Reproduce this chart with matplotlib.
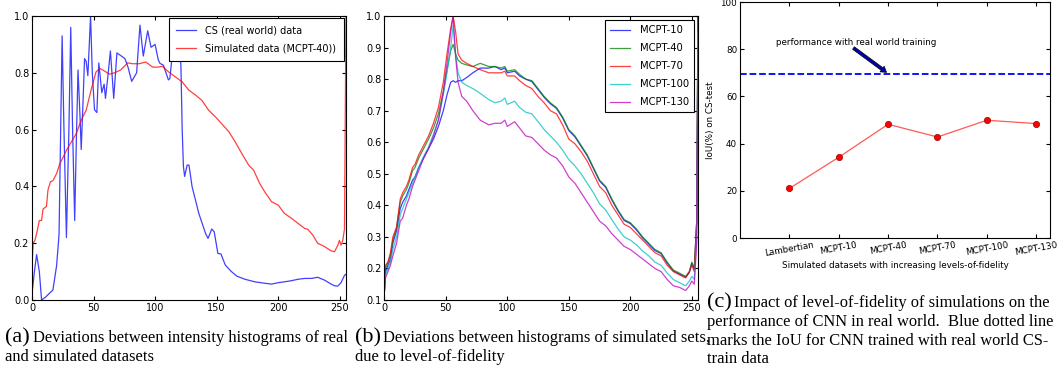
import matplotlib
matplotlib.use('Agg')
import matplotlib.pyplot as plt

# (a) real world vs simulated histogram
cs_x = [0, 2, 3.8, 6, 7.8, 11, 14.5, 17, 20, 22, 24.5, 26, 28, 30, 31.5, 33,
        34.7, 36, 37.4, 39, 40, 41.5, 42.7, 44, 45.4, 47.6, 49, 50.8, 52.7,
        54.3, 56.7, 58.6, 59.7, 61.6, 63.7, 66.4, 69, 72.3, 75.5, 78, 81, 85,
        87.7, 90.4, 94, 96.7, 100, 102.6, 104, 106.7, 110.8, 112, 113.5, 117,
        120, 121, 122, 123, 124, 126, 127.5, 130, 135.5, 141, 143, 146, 148,
        151, 153.5, 157, 162, 166.4, 173, 181, 189, 194.6, 200, 205, 210.8,
        216, 221.5, 227, 232, 237.6, 243, 245.7, 248.4, 251, 253.8, 255]
cs_y = [0.02, 0.1, 0.16, 0.1, 0.0, 0.01, 0.025, 0.035, 0.12, 0.23, 0.93, 0.6,
        0.22, 0.6, 0.96, 0.6, 0.28, 0.55, 0.81, 0.65, 0.53, 0.7, 0.85, 0.84,
        0.79, 1.0, 0.8, 0.67, 0.66, 0.835, 0.73, 0.76, 0.71, 0.785, 0.877,
        0.71, 0.87, 0.86, 0.85, 0.82, 0.77, 0.80, 0.968, 0.859, 0.948, 0.89,
        0.90, 0.845, 0.833, 0.827, 0.775, 0.78, 0.845, 0.92, 0.90, 0.82, 0.6,
        0.47, 0.435, 0.475, 0.475, 0.40, 0.305, 0.234, 0.217, 0.25, 0.24,
        0.164, 0.162, 0.123, 0.10, 0.084, 0.073, 0.064, 0.059, 0.056, 0.061,
        0.064, 0.068, 0.073, 0.076, 0.076, 0.08, 0.07, 0.056, 0.05, 0.049,
        0.061, 0.087, 0.09]

sim_x = [0, 1, 2.4, 3.8, 6, 7.8, 9, 11.8, 13, 15, 17, 20, 22.6, 25, 28, 32,
         36, 40, 44, 48, 52, 55, 57.5, 63, 67, 72, 77.7, 81.7, 87, 92.5, 98,
         102, 106, 111, 116.7, 122, 127.4, 133, 138, 143.5, 149, 154, 160,
         165, 170.4, 176, 180, 185, 189, 194.6, 200, 205, 211, 216, 221.5,
         224, 228, 232, 237.6, 243, 245.7, 248.4, 249.7, 251, 252.4, 253.8, 255]
sim_y = [0.117, 0.2, 0.21, 0.234, 0.28, 0.28, 0.32, 0.33, 0.387, 0.416, 0.42,
         0.445, 0.48, 0.50, 0.527, 0.557, 0.586, 0.633, 0.668, 0.739, 0.803,
         0.815, 0.81, 0.795, 0.80, 0.81, 0.835, 0.832, 0.832, 0.838, 0.82,
         0.82, 0.823, 0.803, 0.785, 0.768, 0.739, 0.721, 0.703, 0.668, 0.645,
         0.621, 0.592, 0.557, 0.516, 0.475, 0.457, 0.41, 0.381, 0.346, 0.334,
         0.305, 0.287, 0.27, 0.252, 0.249, 0.229, 0.2, 0.188, 0.173, 0.17,
         0.193, 0.21, 0.193, 0.21, 0.25, 1.0]

# (b) simulated sets by level-of-fidelity
b_x = [0, 1, 3, 5, 7, 10, 13, 15, 18, 20, 23, 25, 28, 32, 36, 40, 44, 48, 51,
       54, 56, 58, 60, 63, 67, 72, 78, 85, 90, 95, 98, 100, 106, 110, 115, 120,
       125, 130, 135, 140, 145, 150, 155, 160, 165, 170, 175, 180, 185, 190,
       195, 200, 205, 210, 215, 220, 225, 230, 235, 240, 245, 248, 250, 252,
       254, 255]
mcpt10 = [0.12, 0.19, 0.21, 0.23, 0.28, 0.32, 0.39, 0.41, 0.43, 0.45, 0.48,
          0.49, 0.52, 0.55, 0.58, 0.61, 0.65, 0.70, 0.75, 0.79, 0.795, 0.79,
          0.795, 0.795, 0.805, 0.82, 0.835, 0.835, 0.84, 0.83, 0.835, 0.82,
          0.825, 0.81, 0.80, 0.792, 0.767, 0.742, 0.722, 0.707, 0.677, 0.637,
          0.617, 0.587, 0.557, 0.517, 0.477, 0.457, 0.417, 0.382, 0.352,
          0.342, 0.322, 0.297, 0.277, 0.257, 0.247, 0.217, 0.192, 0.182,
          0.172, 0.187, 0.217, 0.197, 0.35, 1.0]
mcpt40 = [0.12, 0.20, 0.22, 0.24, 0.29, 0.33, 0.41, 0.43, 0.45, 0.47, 0.51,
          0.52, 0.55, 0.58, 0.61, 0.645, 0.69, 0.76, 0.83, 0.89, 0.91, 0.88,
          0.86, 0.85, 0.845, 0.84, 0.85, 0.84, 0.84, 0.835, 0.84, 0.825,
          0.83, 0.815, 0.80, 0.795, 0.77, 0.745, 0.725, 0.71, 0.68, 0.64,
          0.62, 0.59, 0.56, 0.52, 0.48, 0.46, 0.42, 0.385, 0.355, 0.345,
          0.325, 0.30, 0.28, 0.26, 0.25, 0.22, 0.195, 0.185, 0.175, 0.19,
          0.22, 0.20, 0.35, 1.0]
mcpt70 = [0.12, 0.21, 0.22, 0.25, 0.30, 0.33, 0.42, 0.44, 0.46, 0.48, 0.52,
          0.53, 0.56, 0.59, 0.62, 0.66, 0.71, 0.79, 0.88, 0.96, 1.0, 0.95,
          0.88, 0.86, 0.85, 0.84, 0.83, 0.82, 0.82, 0.82, 0.825, 0.81, 0.81,
          0.795, 0.78, 0.77, 0.745, 0.725, 0.70, 0.69, 0.655, 0.61, 0.595,
          0.57, 0.54, 0.50, 0.46, 0.44, 0.40, 0.37, 0.34, 0.33, 0.31, 0.29,
          0.27, 0.25, 0.24, 0.21, 0.19, 0.18, 0.17, 0.19, 0.21, 0.19, 0.35,
          1.0]
mcpt100 = [0.12, 0.18, 0.20, 0.22, 0.26, 0.30, 0.37, 0.39, 0.42, 0.44, 0.47,
           0.49, 0.52, 0.555, 0.585, 0.625, 0.67, 0.75, 0.82, 0.90, 0.97,
           0.88, 0.82, 0.79, 0.78, 0.77, 0.755, 0.735, 0.725, 0.73, 0.74,
           0.72, 0.73, 0.71, 0.695, 0.69, 0.665, 0.64, 0.62, 0.60, 0.575,
           0.545, 0.525, 0.50, 0.47, 0.44, 0.405, 0.385, 0.355, 0.325, 0.30,
           0.29, 0.275, 0.255, 0.24, 0.22, 0.21, 0.185, 0.165, 0.155, 0.145,
           0.16, 0.175, 0.165, 0.30, 0.95]
mcpt130 = [0.12, 0.17, 0.19, 0.21, 0.24, 0.28, 0.35, 0.36, 0.40, 0.42, 0.46,
           0.48, 0.51, 0.55, 0.58, 0.62, 0.67, 0.76, 0.85, 0.95, 1.0, 0.87,
           0.79, 0.745, 0.73, 0.70, 0.67, 0.655, 0.66, 0.66, 0.67, 0.65,
           0.665, 0.645, 0.62, 0.615, 0.595, 0.575, 0.56, 0.55, 0.525, 0.49,
           0.47, 0.44, 0.41, 0.38, 0.35, 0.335, 0.31, 0.29, 0.27, 0.26, 0.245,
           0.23, 0.215, 0.20, 0.19, 0.165, 0.145, 0.14, 0.13, 0.145, 0.16,
           0.15, 0.28, 0.9]
b_series = [('MCPT-10', mcpt10, 'b'), ('MCPT-40', mcpt40, 'g'),
            ('MCPT-70', mcpt70, 'r'), ('MCPT-100', mcpt100, 'c'),
            ('MCPT-130', mcpt130, 'm')]

# (c) IoU vs level-of-fidelity
datasets = ['Lambertian', 'MCPT-10', 'MCPT-40', 'MCPT-70', 'MCPT-100', 'MCPT-130']
iou = [21.0, 34.2, 48.2, 42.8, 49.9, 48.5]
real_iou = 69.5

plt.rcParams['xtick.direction'] = 'in'
plt.rcParams['ytick.direction'] = 'in'
plt.rcParams['xtick.top'] = True
plt.rcParams['ytick.right'] = True
plt.rcParams['axes.linewidth'] = 0.8

fig = plt.figure(figsize=(10.58, 3.75), dpi=100)

ax1 = fig.add_axes([0.0302, 0.2, 0.2968, 0.7573])
ax1.plot(cs_x, cs_y, color='b', alpha=0.75, lw=0.9, label='CS (real world) data')
ax1.plot(sim_x, sim_y, color='r', alpha=0.75, lw=0.9, label='Simulated data (MCPT-40))')
ax1.set_xlim(0, 255)
ax1.set_ylim(0, 1.0)
ax1.set_xticks([0, 50, 100, 150, 200, 250])
ax1.set_yticks([0.0, 0.2, 0.4, 0.6, 0.8, 1.0])
ax1.tick_params(labelsize=7, length=3, pad=2)
leg = ax1.legend(loc='upper right', fontsize=7.0, fancybox=False, framealpha=1,
                 edgecolor='black', borderaxespad=0.25, borderpad=0.75,
                 labelspacing=0.8, handlelength=2.0, handletextpad=1.0)
leg.get_frame().set_linewidth(0.8)

ax2 = fig.add_axes([0.3632, 0.2, 0.2965, 0.7573])
for name, vals, col in b_series:
    ax2.plot(b_x, vals, color=col, alpha=0.75, lw=0.9, label=name)
ax2.set_xlim(0, 255)
ax2.set_ylim(0.1, 1.0)
ax2.set_xticks([0, 50, 100, 150, 200, 250])
ax2.set_yticks([0.1, 0.2, 0.3, 0.4, 0.5, 0.6, 0.7, 0.8, 0.9, 1.0])
ax2.tick_params(labelsize=7, length=3, pad=2)
leg = ax2.legend(loc='upper right', fontsize=7.2, fancybox=False, framealpha=1,
                 edgecolor='black', borderaxespad=0.4, borderpad=0.5,
                 labelspacing=0.8, handlelength=2.0, handletextpad=1.0)
leg.get_frame().set_linewidth(0.8)

ax3 = fig.add_axes([0.6994, 0.3653, 0.293, 0.6293])
pos = list(range(len(datasets)))
ax3.plot(pos, iou, color=(1, 0.35, 0.35), lw=0.9, marker='o', ms=4.5,
         mfc='r', mec=(0.6, 0, 0), mew=0.5)
ax3.axhline(real_iou, color='b', ls='--', lw=1.3)
ax3.set_xlim(-1, 5.28)
ax3.set_ylim(0, 100)
ax3.set_xticks(pos)
ax3.set_xticklabels(datasets, rotation=10, fontsize=6.3)
ax3.set_yticks([0, 20, 40, 60, 80, 100])
ax3.tick_params(labelsize=6.3, length=3, pad=2)
ax3.set_ylabel('IoU(%) on CS-test', fontsize=6.3, labelpad=4)
ax3.set_xlabel('Simulated datasets with increasing levels-of-fidelity', fontsize=6.3, labelpad=2)
ax3.text(-0.26, 83, 'performance with real world training', fontsize=6.3, va='center')
ax3.annotate('', xy=(1.97, 70.2), xytext=(1.3, 80.5),
             arrowprops=dict(facecolor='#0000b0', edgecolor='black', lw=0.5,
                             width=2.2, headwidth=5, headlength=4))

serif = 'Liberation Serif'
cap = 11.85
big = 16
fig.text(0.005, 0.088, '(a)', fontsize=big, family=serif, va='baseline')
fig.text(0.0315, 0.088, 'Deviations between intensity histograms of real',
         fontsize=cap, family=serif, va='baseline')
fig.text(0.005, 0.037, 'and simulated datasets', fontsize=cap, family=serif, va='baseline')
fig.text(0.3355, 0.088, '(b)', fontsize=big, family=serif, va='baseline')
fig.text(0.362, 0.088, 'Deviations between histograms of simulated sets,',
         fontsize=cap, family=serif, va='baseline')
fig.text(0.3355, 0.037, 'due to level-of-fidelity', fontsize=cap, family=serif, va='baseline')
fig.text(0.668, 0.181, '(c)', fontsize=big, family=serif, va='baseline')
fig.text(0.694, 0.181, 'Impact of level-of-fidelity of simulations on the',
         fontsize=cap, family=serif, va='baseline')
fig.text(0.668, 0.131, 'performance of CNN in real world.  Blue dotted line',
         fontsize=cap, family=serif, va='baseline')
fig.text(0.668, 0.080, 'marks the IoU for CNN trained with real world CS-',
         fontsize=cap, family=serif, va='baseline')
fig.text(0.668, 0.032, 'train data', fontsize=cap, family=serif, va='baseline')

fig.savefig('out.png', dpi=100)
